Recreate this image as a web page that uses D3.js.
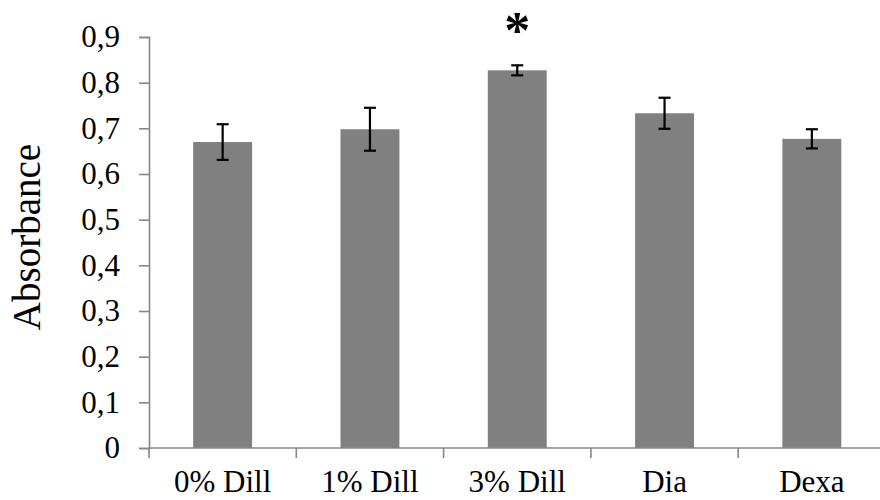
<!DOCTYPE html>
<html>
<head>
<meta charset="utf-8">
<script src="https://cdn.jsdelivr.net/npm/d3@7"></script>
<style>
body { margin: 0; background: #fff; }
svg { display: block; }
text { font-family: "Liberation Serif", "Times New Roman", serif; fill: #000; }
</style>
</head>
<body>
<svg id="chart" width="880" height="500"></svg>
<script>
const categories = ["0% Dill", "1% Dill", "3% Dill", "Dia", "Dexa"];
const values = [0.670, 0.698, 0.827, 0.733, 0.677];
const errors = [0.039, 0.047, 0.011, 0.034, 0.021];
const significant = ["3% Dill"];
const yTicks = [0, 0.1, 0.2, 0.3, 0.4, 0.5, 0.6, 0.7, 0.8, 0.9];
const yLabel = "Absorbance";

(function () {
const svg = d3.select("#chart");
const mLeft = 149, mRight = 885.5, mTop = 37, mBottom = 448;
const axisColor = "#868686";

const y = d3.scaleLinear().domain([0, 0.9]).range([mBottom, mTop]);
const xBand = d3.scaleBand().domain(categories).range([mLeft, mRight]).paddingInner(0.6).paddingOuter(0.3);
const xCell = d3.scaleBand().domain(categories).range([mLeft, mRight]).padding(0);

// bars
svg.append("g").selectAll("rect").data(categories).join("rect")
  .attr("x", d => xBand(d))
  .attr("width", xBand.bandwidth())
  .attr("y", (d, i) => y(values[i]))
  .attr("height", (d, i) => y(0) - y(values[i]))
  .attr("fill", "#808080");

// error bars
const eb = svg.append("g").attr("stroke", "#000").attr("stroke-width", 2.2);
categories.forEach((c, i) => {
  const cx = xBand(c) + xBand.bandwidth() / 2;
  const hi = y(values[i] + errors[i]), lo = y(values[i] - errors[i]);
  eb.append("line").attr("x1", cx).attr("x2", cx).attr("y1", hi).attr("y2", lo);
  eb.append("line").attr("x1", cx - 6).attr("x2", cx + 6).attr("y1", hi).attr("y2", hi);
  eb.append("line").attr("x1", cx - 6).attr("x2", cx + 6).attr("y1", lo).attr("y2", lo);
});

// y axis
const yAxis = d3.axisLeft(y).tickValues(yTicks).tickSize(10).tickPadding(19)
  .tickFormat(d => d3.format(".1~f")(d).replace(".", ","));
const gy = svg.append("g").attr("transform", `translate(${mLeft},0)`).call(yAxis);
gy.attr("font-family", "Liberation Serif");
gy.select(".domain").attr("stroke", axisColor).attr("stroke-width", 1.6);
gy.selectAll(".tick line").attr("stroke", axisColor).attr("stroke-width", 1.6);
gy.selectAll(".tick text").attr("font-size", 31).attr("font-family", "Liberation Serif").attr("fill", "#000");

// x axis line
svg.append("line").attr("x1", mLeft).attr("x2", mRight).attr("y1", mBottom).attr("y2", mBottom)
  .attr("stroke", axisColor).attr("stroke-width", 1.6);
// x boundary ticks
const bounds = categories.map(c => xCell(c)).concat([mRight]);
svg.append("g").selectAll("line").data(bounds).join("line")
  .attr("x1", d => d).attr("x2", d => d).attr("y1", mBottom).attr("y2", mBottom + 10)
  .attr("stroke", axisColor).attr("stroke-width", 1.6);
// x labels
svg.append("g").selectAll("text").data(categories).join("text")
  .attr("x", d => xCell(d) + xCell.bandwidth() / 2)
  .attr("y", 492)
  .attr("text-anchor", "middle")
  .attr("font-size", 31)
  .text(d => d);

// significance asterisk
svg.append("g").selectAll("text").data(significant).join("text")
  .attr("x", d => xBand(d) + xBand.bandwidth() / 2)
  .attr("y", 48)
  .attr("text-anchor", "middle")
  .attr("font-size", 52)
  .attr("font-weight", "bold")
  .text("*");

// y label
svg.append("text")
  .attr("transform", "translate(40,237) rotate(-90)")
  .attr("text-anchor", "middle")
  .attr("font-size", 39)
  .text(yLabel);
})();
</script>
</body>
</html>
